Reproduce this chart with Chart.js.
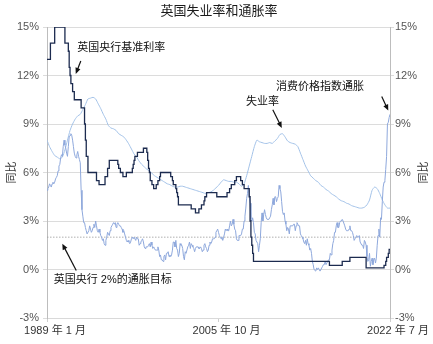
<!DOCTYPE html>
<html>
<head>
<meta charset="utf-8">
<script src="https://cdn.jsdelivr.net/npm/chart.js@4.4.0/dist/chart.umd.min.js"></script>
<style>
  html, body { margin: 0; padding: 0; background: #fff; }
  #wrap { width: 433px; height: 344px; }
</style>
</head>
<body>
<div id="wrap"><canvas id="ukChart" width="433" height="344"></canvas></div>
<script>
// months counted from 1989-01 (index 0) to 2022-07 (index 402)
const tickMonths = [0, 201, 402];
const tickLabels = ['1989 年 1 月', '2005 年 10 月', '2022 年 7 月'];
const yTicks = [-3, 0, 3, 6, 9, 12, 15];

// CPI inflation, monthly, % yoy
const cpiInflation = [
  4.9, 5.0, 5.1, 5.3, 5.2, 5.1, 5.3, 5.4, 5.3, 5.4, 5.6, 5.7,   // 1989
  5.8, 6.1, 6.4, 6.5, 6.9, 7.1, 7.0, 7.6, 8.0, 7.7, 7.5, 7.2,   // 1990
  7.0, 7.6, 8.2, 8.3, 8.4, 8.3, 8.0, 7.6, 7.2, 7.0, 6.9, 7.1,   // 1991
  7.3, 7.0, 6.8, 6.6, 4.9, 3.7, 3.3, 2.9, 2.9, 2.6, 2.4, 2.2,   // 1992
  2.2, 2.4, 2.7, 2.5, 2.3, 2.4, 2.6, 2.8, 2.6, 3.0, 2.7, 2.4,   // 1993
  2.3, 2.5, 2.3, 2.1, 2.0, 1.8, 1.9, 1.6, 1.5, 1.8, 2.0, 2.3,   // 1994
  2.2, 2.1, 2.4, 2.6, 2.7, 2.8, 2.9, 2.8, 2.9, 2.6, 2.8, 2.9,   // 1995
  2.8, 2.7, 2.7, 2.6, 2.5, 2.3, 2.4, 2.2, 2.0, 1.8, 1.7, 1.8,   // 1996
  1.7, 1.6, 1.7, 1.9, 2.0, 1.9, 2.0, 2.0, 1.8, 2.0, 1.9, 1.9,   // 1997
  1.5, 1.6, 1.7, 1.8, 1.9, 1.7, 1.4, 1.3, 1.4, 1.4, 1.4, 1.5,   // 1998
  1.6, 1.4, 1.7, 1.5, 1.3, 1.4, 1.3, 1.2, 1.2, 1.2, 1.4, 1.2,   // 1999
  0.8, 0.9, 0.6, 0.6, 0.5, 0.8, 0.9, 0.6, 1.0, 1.0, 1.1, 0.8,   // 2000
  0.9, 0.8, 0.9, 1.2, 1.7, 1.7, 1.4, 1.8, 1.3, 1.2, 0.8, 1.0,   // 2001
  1.6, 1.5, 1.5, 1.3, 0.8, 0.6, 1.1, 1.0, 1.0, 1.4, 1.5, 1.7,   // 2002
  1.3, 1.6, 1.5, 1.4, 1.3, 1.1, 1.3, 1.4, 1.4, 1.4, 1.3, 1.3,   // 2003
  1.4, 1.3, 1.1, 1.2, 1.5, 1.6, 1.4, 1.3, 1.1, 1.2, 1.5, 1.7,   // 2004
  1.6, 1.7, 1.9, 1.9, 1.9, 2.0, 2.3, 2.4, 2.5, 2.3, 2.1, 2.0,   // 2005
  1.9, 2.0, 1.8, 2.0, 2.2, 2.5, 2.4, 2.5, 2.4, 2.4, 2.7, 3.0,   // 2006
  2.7, 2.8, 3.1, 2.8, 2.5, 2.4, 1.9, 1.8, 1.8, 2.1, 2.1, 2.1,   // 2007
  2.2, 2.5, 2.5, 3.0, 3.3, 3.8, 4.4, 4.7, 5.2, 4.5, 4.1, 3.1,   // 2008
  3.0, 3.2, 2.9, 2.3, 2.2, 1.8, 1.8, 1.6, 1.1, 1.5, 1.9, 2.9,   // 2009
  3.5, 3.0, 3.4, 3.7, 3.4, 3.2, 3.1, 3.1, 3.1, 3.2, 3.3, 3.7,   // 2010
  4.0, 4.4, 4.0, 4.5, 4.5, 4.2, 4.4, 4.5, 5.2, 5.0, 4.8, 4.2,   // 2011
  3.6, 3.4, 3.5, 3.0, 2.8, 2.4, 2.6, 2.5, 2.2, 2.7, 2.7, 2.7,   // 2012
  2.7, 2.8, 2.8, 2.4, 2.7, 2.9, 2.8, 2.7, 2.7, 2.2, 2.1, 2.0,   // 2013
  1.9, 1.7, 1.6, 1.8, 1.5, 1.9, 1.6, 1.5, 1.2, 1.3, 1.0, 0.5,   // 2014
  0.3, 0.0, 0.0, -0.1, 0.1, 0.0, 0.1, 0.0, -0.1, -0.1, 0.1, 0.2, // 2015
  0.3, 0.3, 0.5, 0.3, 0.3, 0.5, 0.6, 0.6, 1.0, 0.9, 1.2, 1.6,   // 2016
  1.8, 2.3, 2.3, 2.7, 2.9, 2.6, 2.6, 2.9, 3.0, 3.0, 3.1, 3.0,   // 2017
  3.0, 2.7, 2.5, 2.4, 2.4, 2.4, 2.5, 2.7, 2.4, 2.4, 2.3, 2.1,   // 2018
  1.8, 1.9, 1.9, 2.1, 2.0, 2.0, 2.1, 1.7, 1.7, 1.5, 1.5, 1.3,   // 2019
  1.8, 1.7, 1.5, 0.8, 0.5, 0.6, 1.0, 0.2, 0.5, 0.7, 0.3, 0.6,   // 2020
  0.7, 0.4, 0.7, 1.5, 2.1, 2.5, 2.0, 3.2, 3.1, 4.2, 5.1, 5.4,   // 2021
  5.5, 6.2, 7.0, 9.0, 9.1, 9.4, 9.6                             // 2022
];

// unemployment rate, one reading every 3 months
const unemploymentStep = 3;
const unemployment = [
  8.0, 7.6, 7.3, 7.05, 6.95, 6.85, 6.95, 7.4, 8.0, 8.6, 9.0, 9.3,
  9.5, 9.6, 9.9, 10.2, 10.55, 10.6, 10.65, 10.55, 10.25, 9.95, 9.6, 9.3,
  8.9, 8.75, 8.7, 8.6, 8.4, 8.3, 8.2, 8.0, 7.75, 7.45, 7.15, 6.95,
  6.7, 6.5, 6.35, 6.2, 6.1, 5.95, 5.8, 5.7, 5.6, 5.5, 5.4, 5.3,
  5.25, 5.15, 5.1, 5.1, 5.15, 5.15, 5.1, 5.05, 5.0, 4.95, 4.9, 4.85,
  4.8, 4.75, 4.7, 4.75, 4.8, 4.9, 5.05, 5.2, 5.4, 5.55, 5.5, 5.45,
  5.45, 5.4, 5.4, 5.3, 5.15, 5.3, 5.8, 6.4, 7.0, 7.6, 8.0, 7.9,
  7.85, 7.8, 7.8, 7.85, 7.8, 7.95, 8.1, 8.35, 8.4, 8.2, 7.95, 7.85,
  7.8, 7.75, 7.6, 7.2, 6.8, 6.4, 6.1, 5.8, 5.65, 5.5, 5.4, 5.2,
  5.1, 4.95, 4.85, 4.7, 4.6, 4.5, 4.35, 4.25, 4.2, 4.1, 4.05, 3.95,
  3.9, 3.85, 3.8, 3.8, 3.85, 4.0, 4.3, 4.9, 5.1, 5.0, 4.7, 4.3,
  4.0, 3.8, 3.8
];

// Bank of England base rate: month of each change and the new rate
const bankRateMonths = [
  0, 4, 9, 21, 25, 26, 27, 28, 30, 32, 40, 44, 45, 46, 48, 58, 61, 68, 71, 73,
  83, 84, 86, 89, 93, 100, 101, 102, 103, 106, 113, 117, 118, 119, 120, 121, 123, 125, 128, 130,
  132, 133, 145, 147, 148, 151, 152, 153, 154, 169, 174, 178, 181, 184, 185, 187, 199, 211, 214, 216,
  220, 222, 227, 229, 231, 237, 238, 239, 240, 241, 242, 331, 346, 355, 374, 395, 397, 398, 400, 401,
  402
];
const bankRateValues = [
  13, 14, 15, 14, 13.5, 12.5, 12, 11.5, 11, 10.5, 10, 9, 8, 7, 6, 5.5, 5.25, 5.75, 6.25, 6.75,
  6.5, 6.25, 6, 5.75, 6, 6.25, 6.5, 6.75, 7, 7.25, 7.5, 7.25, 6.75, 6.25, 6, 5.5, 5.25, 5, 5.25, 5.5,
  5.75, 6, 5.75, 5.5, 5.25, 5, 4.75, 4.5, 4, 3.75, 3.5, 3.75, 4, 4.25, 4.5, 4.75, 4.5, 4.75, 5, 5.25,
  5.5, 5.75, 5.5, 5.25, 5, 4.5, 3, 2, 1.5, 1, 0.5, 0.25, 0.5, 0.75, 0.1, 0.25, 0.5, 0.75, 1, 1.25,
  1.25
];

const inflationTarget = 2;

const FONT = "'Liberation Sans', 'Noto Sans CJK SC', sans-serif";

// callouts, placed in (month, %) units
const notes = [
  { text: '英国央行基准利率', at: [87, 13.73], from: [39.6, 12.9], to: [33.7, 12.1] },
  { text: '失业率', at: [252.7, 10.35], from: [264.6, 9.88], to: [275.2, 8.76] },
  { text: '消费价格指数通胀', at: [320, 11.27], from: [392.3, 10.7], to: [400, 9.83] },
  { text: '英国央行 2%的通胀目标', at: [77, -0.62], from: [34.3, -0.06], to: [17.9, 1.6] }
];

const cpiPoints = cpiInflation.map((v, i) => ({ x: i, y: v }));
const unempPoints = unemployment.map((v, i) => ({ x: i * unemploymentStep, y: v }));
const ratePoints = bankRateMonths.map((m, i) => ({ x: m, y: bankRateValues[i] }));
const targetPoints = [
  { x: tickMonths[0], y: inflationTarget },
  { x: tickMonths[tickMonths.length - 1], y: inflationTarget }
];

function drawArrow(ctx, x1, y1, x2, y2) {
  const a = Math.atan2(y2 - y1, x2 - x1);
  const len = 6, half = 2.6;
  ctx.beginPath();
  ctx.moveTo(x1, y1);
  ctx.lineTo(x2 - Math.cos(a) * len * 0.8, y2 - Math.sin(a) * len * 0.8);
  ctx.stroke();
  ctx.beginPath();
  ctx.moveTo(x2, y2);
  ctx.lineTo(x2 - Math.cos(a) * len - Math.sin(a) * half, y2 - Math.sin(a) * len + Math.cos(a) * half);
  ctx.lineTo(x2 - Math.cos(a) * len + Math.sin(a) * half, y2 - Math.sin(a) * len - Math.cos(a) * half);
  ctx.closePath();
  ctx.fill();
}

const decorations = {
  id: 'decorations',
  afterDraw(chart) {
    const { ctx, scales: { x, y }, chartArea } = chart;
    ctx.save();
    // title
    ctx.fillStyle = '#1a1a1a';
    ctx.font = '13px ' + FONT;
    ctx.textAlign = 'center';
    ctx.textBaseline = 'middle';
    ctx.fillText('英国失业率和通胀率', 219, 11);

    // side titles, both read bottom to top
    const midY = (chartArea.top + chartArea.bottom) / 2;
    ctx.font = '11px ' + FONT;
    ctx.fillStyle = '#333';
    [12, 424].forEach(cx => {
      ctx.save();
      ctx.translate(cx, midY);
      ctx.rotate(-Math.PI / 2);
      ctx.fillText('同比', 0, 0);
      ctx.restore();
    });

    // callouts
    ctx.fillStyle = '#111';
    ctx.strokeStyle = '#111';
    ctx.lineWidth = 1.2;
    notes.forEach(n => {
      ctx.fillText(n.text, x.getPixelForValue(n.at[0]), y.getPixelForValue(n.at[1]));
      drawArrow(ctx,
        x.getPixelForValue(n.from[0]), y.getPixelForValue(n.from[1]),
        x.getPixelForValue(n.to[0]), y.getPixelForValue(n.to[1]));
    });
    ctx.restore();
  }
};

new Chart(document.getElementById('ukChart'), {
  type: 'line',
  data: {
    datasets: [
      {
        label: '英国央行基准利率',
        data: ratePoints,
        stepped: true,
        borderColor: '#1c2b4f',
        borderWidth: 1.3,
        pointRadius: 0
      },
      {
        label: '消费价格指数通胀',
        data: cpiPoints,
        borderColor: '#8ea8dc',
        borderWidth: 1,
        pointRadius: 0,
        tension: 0
      },
      {
        label: '失业率',
        data: unempPoints,
        borderColor: '#a3c2e8',
        borderWidth: 1,
        pointRadius: 0,
        tension: 0.2
      },
      {
        label: '英国央行 2%的通胀目标',
        data: targetPoints,
        borderColor: '#9a9a9a',
        borderWidth: 0.8,
        borderDash: [1.5, 1.5],
        pointRadius: 0
      }
    ]
  },
  options: {
    responsive: false,
    animation: false,
    layout: { padding: { top: 27, left: 0, right: 0, bottom: 0 } },
    plugins: {
      legend: { display: false },
      tooltip: { enabled: false },
      title: { display: false }
    },
    scales: {
      x: {
        type: 'linear',
        min: tickMonths[0],
        max: tickMonths[tickMonths.length - 1],
        afterBuildTicks: s => { s.ticks = tickMonths.map(v => ({ value: v })); },
        afterFit: s => { s.height = 26; },
        ticks: {
          autoSkip: false,
          maxRotation: 0,
          labelOffset: 8,
          padding: 2,
          color: '#333',
          font: { family: FONT, size: 11 },
          callback: (v, i) => tickLabels[i]
        },
        grid: { drawOnChartArea: false, tickLength: 4, color: '#cfcfcf' },
        border: { color: '#d9d9d9' }
      },
      y: {
        position: 'left',
        min: yTicks[0],
        max: yTicks[yTicks.length - 1],
        afterBuildTicks: s => { s.ticks = yTicks.map(v => ({ value: v })); },
        afterFit: s => { s.width = 47; },
        ticks: {
          padding: 4,
          color: '#555',
          font: { family: FONT, size: 11 },
          callback: v => v + '%'
        },
        grid: { color: '#dcdcdc', tickLength: 4 },
        border: { color: '#bdbdbd' }
      },
      y2: {
        position: 'right',
        min: yTicks[0],
        max: yTicks[yTicks.length - 1],
        afterBuildTicks: s => { s.ticks = yTicks.map(v => ({ value: v })); },
        afterFit: s => { s.width = 43; },
        ticks: {
          padding: 1,
          color: '#555',
          font: { family: FONT, size: 11 },
          callback: v => v + '%'
        },
        grid: { drawOnChartArea: false, color: '#dcdcdc', tickLength: 4 },
        border: { color: '#bdbdbd' }
      }
    }
  },
  plugins: [decorations]
});
</script>
</body>
</html>
